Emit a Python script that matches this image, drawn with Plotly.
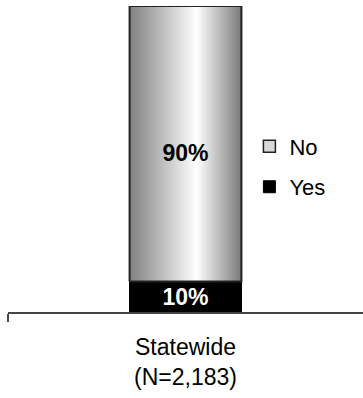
import plotly.graph_objects as go

categories = ["Statewide<br>(N=2,183)"]
yes_vals = [0.10]
no_vals = [0.90]
yes_labels = ["10%"]
no_labels = ["90%"]

FONT = "Liberation Sans, Arial, sans-serif"
BAR_W = 0.315
xpos = list(range(len(categories)))

fig = go.Figure()
fig.add_trace(go.Bar(
    x=xpos, y=yes_vals, name="Yes", width=BAR_W,
    marker=dict(color="#000000", line=dict(color="#000000", width=1)),
    text=yes_labels, textposition="inside", insidetextanchor="middle",
    constraintext="none",
    textfont=dict(family=FONT, size=23, color="white", weight="bold"),
    hoverinfo="skip", legendrank=2, legendgroup="yes",
))
fig.add_trace(go.Bar(
    x=xpos, y=no_vals, name="No", width=BAR_W,
    marker=dict(color="#d8d8d8", line=dict(color="#222222", width=1.5)),
    hoverinfo="skip", legendrank=1, legendgroup="no",
))

# gradient overlay for the "No" segment, built from the data
for i, (yv, nv) in enumerate(zip(yes_vals, no_vals)):
    x0, x1 = xpos[i] - BAR_W / 2, xpos[i] + BAR_W / 2
    y0, y1 = yv, yv + nv
    fig.add_trace(go.Scatter(
        x=[x0, x1, x1, x0, x0], y=[y0, y0, y1, y1, y0],
        mode="lines", fill="toself",
        line=dict(color="#222222", width=2),
        fillgradient=dict(type="horizontal",
                          colorscale=[[0, "#808080"], [0.6, "#ffffff"], [1, "#7a7a7a"]]),
        showlegend=False, hoverinfo="skip",
    ))
    fig.add_trace(go.Scatter(
        x=[xpos[i]], y=[yv + nv / 2], mode="text", text=[no_labels[i]],
        textposition="bottom center",
        textfont=dict(family=FONT, size=23, color="black", weight="bold"),
        showlegend=False, hoverinfo="skip",
    ))

fig.update_layout(
    width=363, height=398,
    margin=dict(l=8, r=0, t=6, b=86),
    barmode="stack",
    plot_bgcolor="white", paper_bgcolor="white",
    font=dict(family=FONT, size=22, color="black"),
    showlegend=True,
    legend=dict(x=0.68, y=0.61, xanchor="left", yanchor="top",
                traceorder="grouped", tracegroupgap=9,
                font=dict(family=FONT, size=22, color="black"),
                bgcolor="rgba(0,0,0,0)"),
    xaxis=dict(range=[-0.5, 0.5], tickvals=xpos, ticktext=categories,
               showline=True, linecolor="#444444", linewidth=1.5,
               ticks="", ticklabelstandoff=14,
               minor=dict(tickvals=[-0.5], ticks="outside", ticklen=8,
                          tickcolor="#444444", tickwidth=1.5, showgrid=False),
               showgrid=False, zeroline=False,
               tickfont=dict(family=FONT, size=23, color="black")),
    yaxis=dict(range=[0, 1], visible=False, showgrid=False, zeroline=False),
)

fig.write_html("out.html")
